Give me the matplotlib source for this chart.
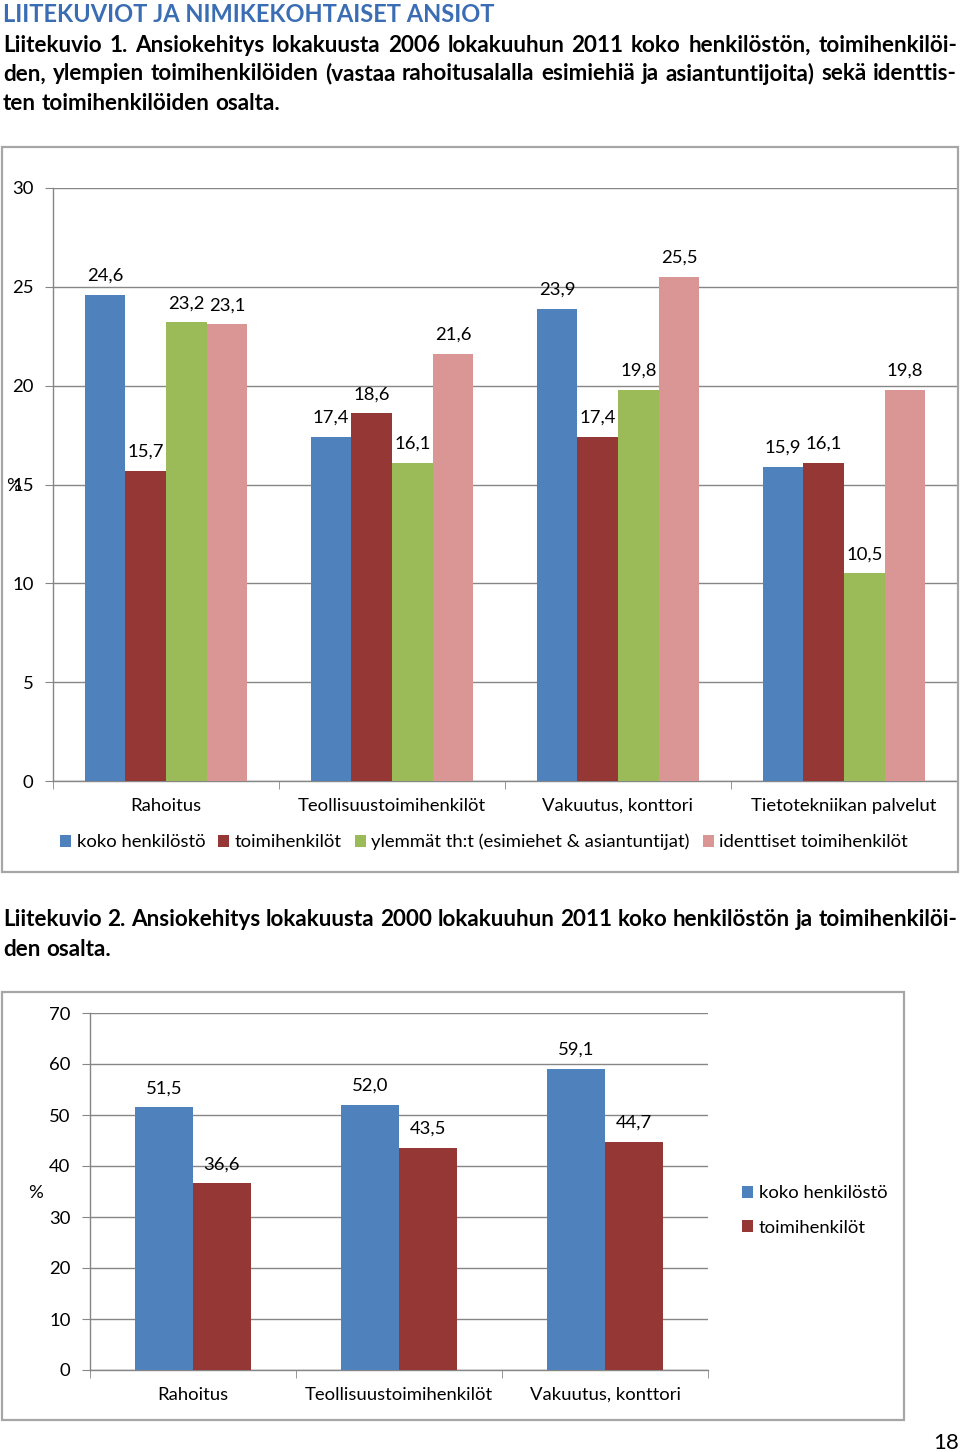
import matplotlib
matplotlib.use("Agg")
import matplotlib.pyplot as plt
from matplotlib.patches import Rectangle
import numpy as np

plt.rcParams['font.family'] = ['Lato', 'DejaVu Sans']

# ---------------- data ----------------
title = "LIITEKUVIOT JA NIMIKEKOHTAISET ANSIOT"
caption1 = ["Liitekuvio 1. Ansiokehitys lokakuusta 2006 lokakuuhun 2011 koko henkilöstön, toimihenkilöi-",
            "den, ylempien toimihenkilöiden (vastaa rahoitusalalla esimiehiä ja asiantuntijoita) sekä identtis-",
            "ten toimihenkilöiden osalta."]
caption2 = ["Liitekuvio 2. Ansiokehitys lokakuusta 2000 lokakuuhun 2011 koko henkilöstön ja toimihenkilöi-",
            "den osalta."]

cats1 = ["Rahoitus", "Teollisuustoimihenkilöt", "Vakuutus, konttori", "Tietotekniikan palvelut"]
series1 = ["koko henkilöstö", "toimihenkilöt", "ylemmät th:t (esimiehet & asiantuntijat)", "identtiset toimihenkilöt"]
koko1 = [24.6, 17.4, 23.9, 15.9]
toimi1 = [15.7, 18.6, 17.4, 16.1]
ylemmat1 = [23.2, 16.1, 19.8, 10.5]
identtiset1 = [23.1, 21.6, 25.5, 19.8]
yticks1 = [0, 5, 10, 15, 20, 25, 30]

cats2 = ["Rahoitus", "Teollisuustoimihenkilöt", "Vakuutus, konttori"]
series2 = ["koko henkilöstö", "toimihenkilöt"]
koko2 = [51.5, 52.0, 59.1]
toimi2 = [36.6, 43.5, 44.7]
yticks2 = [0, 10, 20, 30, 40, 50, 60, 70]

colors = ['#4F81BD', '#953735', '#9BBB59', '#D99694']
grid_c = '#868686'
border_c = '#a6a6a6'
FS = 13.3
CAP_FS = 16.2

W, H = 960, 1452
fig = plt.figure(figsize=(W / 100, H / 100), dpi=100)


def fx(p):
    return p / W


def fy(p):
    return 1 - p / H


def axes_px(l, t, r, b):
    return fig.add_axes([fx(l), fy(b), fx(r) - fx(l), fy(t) - fy(b)])


renderer = fig.canvas.get_renderer()


def justified(line, x0, x1, yc, fs, justify=True):
    words = line.split(' ')
    arts = [fig.text(0, fy(yc), w, fontsize=fs, fontweight='bold', va='center', ha='left') for w in words]
    widths = [a.get_window_extent(renderer).width for a in arts]
    if justify and len(words) > 1:
        gap = ((x1 - x0) - sum(widths)) / (len(words) - 1)
    else:
        sp = fig.text(0, 0, 'a a', fontsize=fs, fontweight='bold')
        sp2 = fig.text(0, 0, 'aa', fontsize=fs, fontweight='bold')
        gap = sp.get_window_extent(renderer).width - sp2.get_window_extent(renderer).width
        sp.remove(); sp2.remove()
    x = x0
    for a, w in zip(arts, widths):
        a.set_x(fx(x))
        x += w + gap


fig.text(fx(3), fy(15), title, fontsize=17, fontweight='bold', color='#3a6db3', va='center', ha='left')
justified(caption1[0], 3, 957, 45, CAP_FS)
justified(caption1[1], 3, 957, 74, CAP_FS)
justified(caption1[2], 3, 957, 103, CAP_FS, justify=False)
justified(caption2[0], 3, 957, 920, CAP_FS)
justified(caption2[1], 3, 957, 949, CAP_FS, justify=False)

# borders
for (l, t, r, b) in [(2, 147, 958, 872), (2, 992, 904, 1420)]:
    fig.add_artist(Rectangle((fx(l), fy(b)), fx(r) - fx(l), fy(t) - fy(b), transform=fig.transFigure,
                             fill=False, edgecolor=border_c, lw=1.6))


def style_axes(ax, yticks, ncat):
    ax.set_ylim(yticks[0], yticks[-1])
    ax.set_yticks(yticks)
    ax.set_xlim(-0.5, ncat - 0.5)
    ax.set_xticks(np.arange(ncat))
    ax.set_xticks(np.arange(ncat + 1) - 0.5, minor=True)
    ax.tick_params(axis='x', which='major', length=0, pad=12, labelsize=FS)
    ax.tick_params(axis='x', which='minor', length=6, color=grid_c, direction='out')
    ax.tick_params(axis='y', length=6, color=grid_c, labelsize=FS, pad=8)
    ax.grid(axis='y', color=grid_c, lw=1.0)
    ax.set_axisbelow(True)
    for s in ['top', 'right']:
        ax.spines[s].set_visible(False)
    for s in ['left', 'bottom']:
        ax.spines[s].set_color(grid_c)
        ax.spines[s].set_linewidth(1.0)


def fmt(v):
    return f"{v:.1f}".replace('.', ',')


# ---------------- chart 1 ----------------
ax1 = axes_px(53, 188, 957, 781)
x = np.arange(len(cats1))
bw = 0.18
data1 = [koko1, toimi1, ylemmat1, identtiset1]
for i, (vals, c, lab) in enumerate(zip(data1, colors, series1)):
    bars = ax1.bar(x + (i - 1.5) * bw, vals, bw, color=c, label=lab, zorder=3)
    for b_, v in zip(bars, vals):
        ax1.annotate(fmt(v), (b_.get_x() + b_.get_width() / 2, v), xytext=(0, 8), textcoords='offset points',
                     ha='center', va='bottom', fontsize=FS)
style_axes(ax1, yticks1, len(cats1))
ax1.set_xticklabels(cats1)
fig.text(fx(14), fy(486), '%', fontsize=FS, ha='center', va='center')
ax1.legend(loc='center', bbox_to_anchor=(fx(484), fy(842)), bbox_transform=fig.transFigure, ncol=4,
           frameon=False, fontsize=FS, handlelength=0.6, handleheight=0.6, handletextpad=0.3,
           columnspacing=0.7, borderpad=0)

# ---------------- chart 2 ----------------
ax2 = axes_px(90, 1013, 708, 1370)
x2 = np.arange(len(cats2))
bw2 = 0.28
data2 = [koko2, toimi2]
for i, (vals, c, lab) in enumerate(zip(data2, colors[:2], series2)):
    bars = ax2.bar(x2 + (i - 0.5) * bw2, vals, bw2, color=c, label=lab, zorder=3)
    for b_, v in zip(bars, vals):
        ax2.annotate(fmt(v), (b_.get_x() + b_.get_width() / 2, v), xytext=(0, 8), textcoords='offset points',
                     ha='center', va='bottom', fontsize=FS)
style_axes(ax2, yticks2, len(cats2))
ax2.set_xticklabels(cats2)
fig.text(fx(36), fy(1193), '%', fontsize=FS, ha='center', va='center')
ax2.legend(loc='upper left', bbox_to_anchor=(fx(733), fy(1176)), bbox_transform=fig.transFigure, ncol=1,
           frameon=False, fontsize=FS, handlelength=0.6, handleheight=0.6, handletextpad=0.3,
           labelspacing=1.0, borderpad=0)

fig.text(fx(946), fy(1443), '18', fontsize=16, ha='center', va='center')

fig.savefig('out.png', dpi=100)
